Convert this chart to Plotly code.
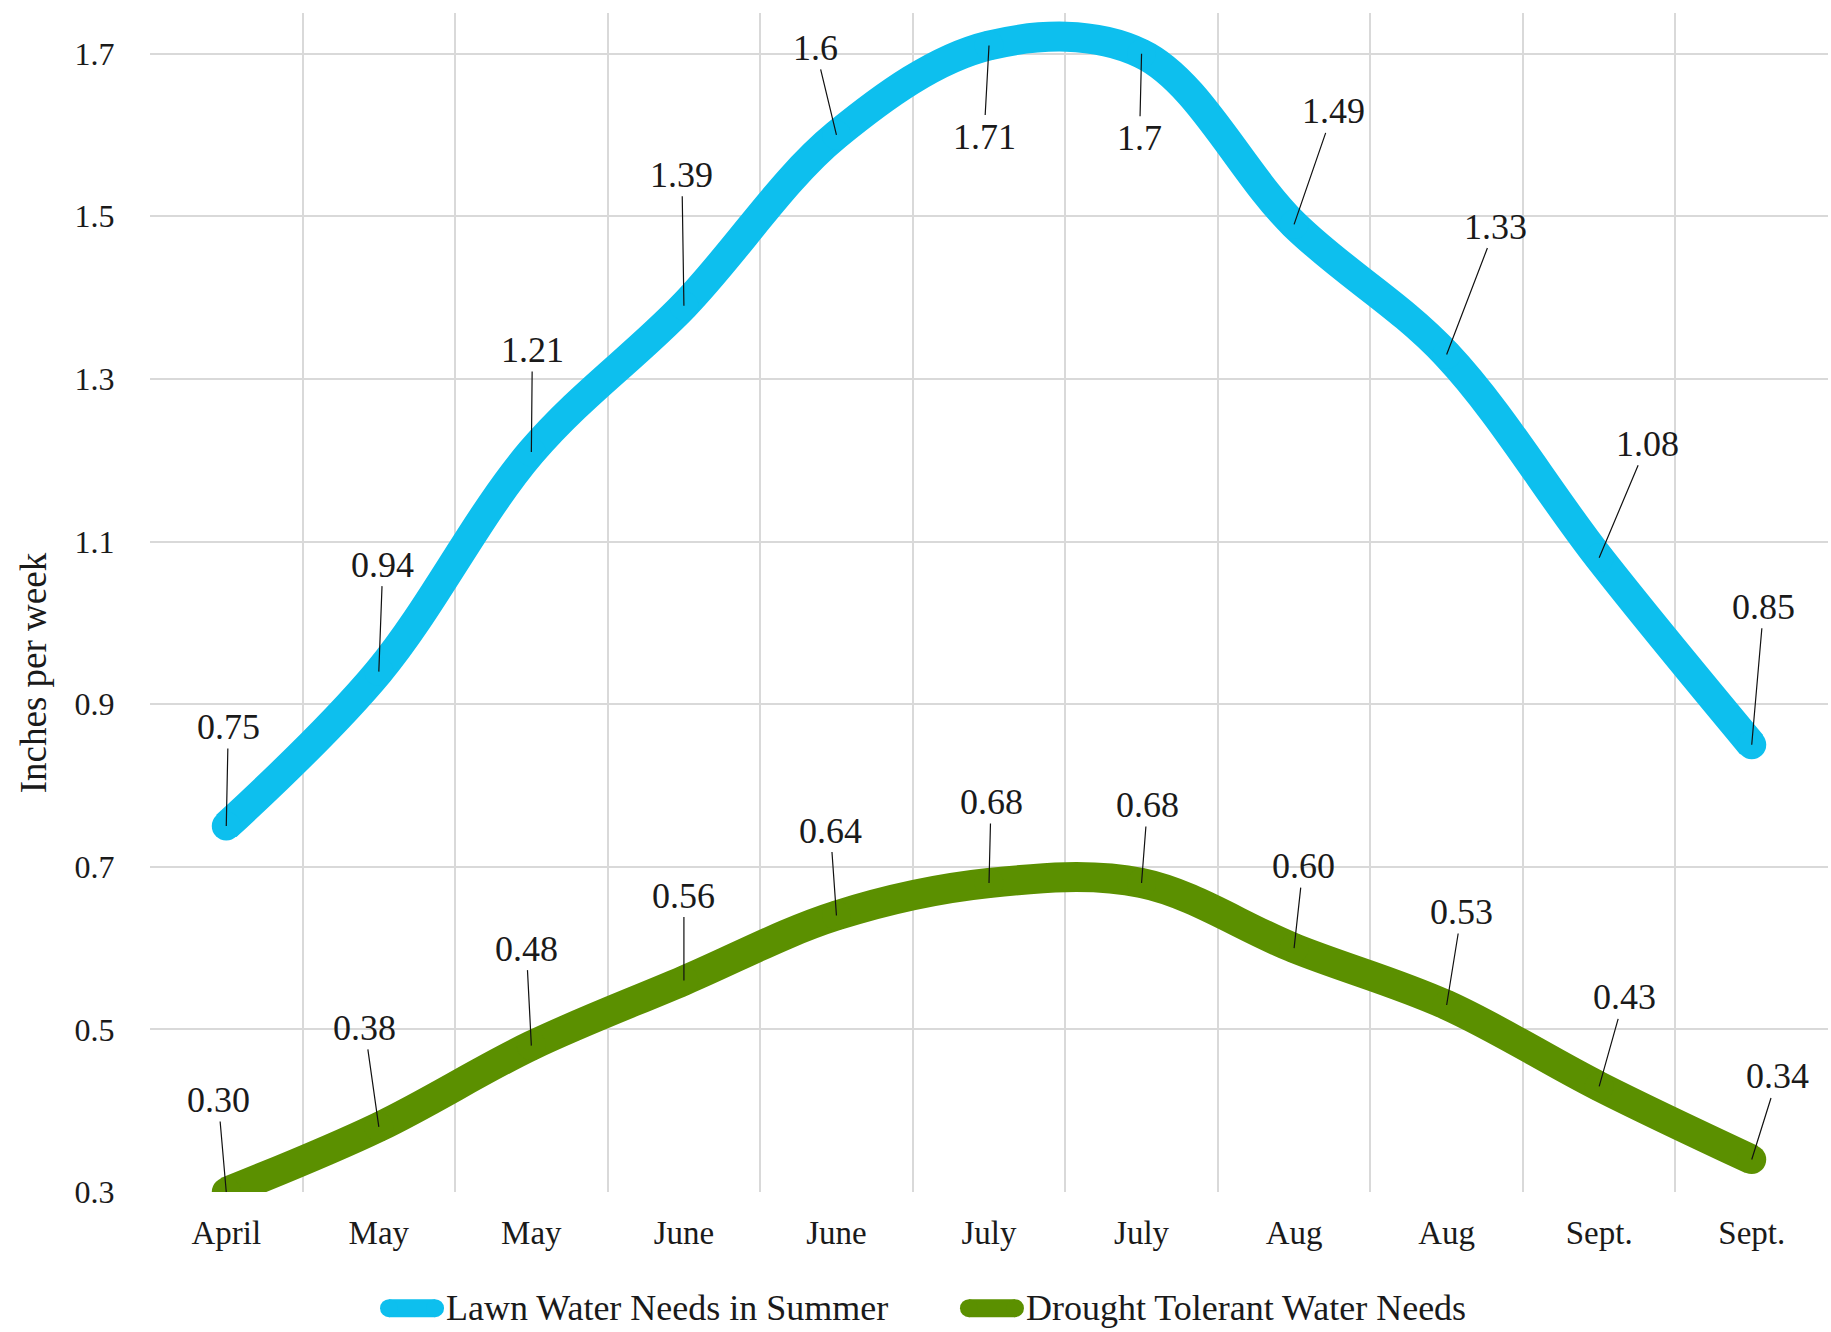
import plotly.graph_objects as go

# Weekly watering needs through the season
months = ["April", "May", "May", "June", "June", "July", "July", "Aug", "Aug", "Sept.", "Sept."]
lawn = [0.75, 0.94, 1.21, 1.39, 1.6, 1.71, 1.7, 1.49, 1.33, 1.08, 0.85]
drought = [0.30, 0.38, 0.48, 0.56, 0.64, 0.68, 0.68, 0.60, 0.53, 0.43, 0.34]
y_ticks = [0.3, 0.5, 0.7, 0.9, 1.1, 1.3, 1.5, 1.7]

lawn_name = "Lawn Water Needs in Summer"
drought_name = "Drought Tolerant Water Needs"
y_title = "Inches per week"

# pixel offsets of each value label from its point
lawn_offsets = [(2, -99), (4, -107), (1, -102), (-2, -131), (-21, -87), (-5, 91),
                (-2, 84), (39, -113), (49, -128), (48, -114), (12, -138)]
drought_offsets = [(-8, -92), (-14, -99), (-5, -97), (0, -85), (-6, -85), (2, -81),
                   (6, -78), (9, -82), (15, -93), (25, -89), (26, -83)]

BLUE = "#0DBFEE"
GREEN = "#5B9000"
FONT = "Liberation Serif, Times New Roman, serif"
TEXT = "#1a1a1a"
GRID = "#d9d9d9"
LW = 30

x = list(range(len(months)))

fig = go.Figure()
for name, vals, color in [(lawn_name, lawn, BLUE), (drought_name, drought, GREEN)]:
    fig.add_trace(go.Scatter(
        x=x, y=vals, name=name,
        mode="lines+markers",
        line=dict(color=color, width=LW, shape="spline", smoothing=1),
        marker=dict(color=color, size=LW - 1, line=dict(width=0)),
        hoverinfo="skip", showlegend=False,
    ))

annotations = []
for vals, offs, fmt in [(lawn, lawn_offsets, "{:g}"), (drought, drought_offsets, "{:.2f}")]:
    for i, (v, (dx, dy)) in enumerate(zip(vals, offs)):
        annotations.append(dict(
            x=i, y=v, xref="x", yref="y",
            text=fmt.format(v),
            showarrow=True, arrowhead=0, arrowwidth=1.2, arrowcolor="#111111",
            ax=dx, ay=dy, standoff=0, startstandoff=0,
            font=dict(family=FONT, size=36, color=TEXT),
        ))

# y-axis title
annotations.append(dict(
    xref="paper", yref="paper", x=0, y=0.44, xshift=-117,
    text=y_title, textangle=-90, showarrow=False,
    xanchor="center", yanchor="middle",
    font=dict(family=FONT, size=37, color=TEXT),
))

# legend below the plot: rounded swatch + label for each series
shapes = []
LEG_Y = -0.0985
legend_items = [(lawn_name, BLUE, 0.1371), (drought_name, GREEN, 0.4827)]
SW_LEN, SW_H = 64, 18
for name, color, x0 in legend_items:
    r = SW_H / 2
    common = dict(xref="paper", yref="paper", xsizemode="pixel", ysizemode="pixel",
                  xanchor=x0, yanchor=LEG_Y, fillcolor=color, line=dict(width=0),
                  layer="above")
    shapes.append(dict(type="rect", x0=r, x1=SW_LEN - r, y0=-r, y1=r, **common))
    shapes.append(dict(type="circle", x0=0, x1=2 * r, y0=-r, y1=r, **common))
    shapes.append(dict(type="circle", x0=SW_LEN - 2 * r, x1=SW_LEN, y0=-r, y1=r, **common))
    annotations.append(dict(
        xref="paper", yref="paper", x=x0, y=LEG_Y, xshift=SW_LEN,
        text=name, showarrow=False, xanchor="left", yanchor="middle",
        font=dict(family=FONT, size=36, color=TEXT),
    ))

fig.update_layout(
    width=1831, height=1332,
    margin=dict(l=150, r=3, t=13, b=140),
    paper_bgcolor="white", plot_bgcolor="white",
    font=dict(family=FONT, color=TEXT),
    showlegend=False,
    annotations=annotations,
    shapes=shapes,
)

fig.update_xaxes(
    range=[-0.5, len(months) - 0.5],
    tickmode="array", tickvals=x, ticktext=months,
    showgrid=False, zeroline=False, showline=False,
    ticks="outside", ticklen=11, tickcolor="rgba(0,0,0,0)",
    tickfont=dict(family=FONT, size=33, color=TEXT),
    minor=dict(tickmode="linear", tick0=-0.5, dtick=1, showgrid=True,
               gridcolor=GRID, gridwidth=2, ticks=""),
)
fig.update_yaxes(
    range=[0.3, 1.75],
    tickmode="array", tickvals=y_ticks, ticktext=[f"{t:g}" for t in y_ticks],
    showgrid=True, gridcolor=GRID, gridwidth=2, zeroline=False, showline=False,
    ticks="outside", ticklen=28, tickcolor="rgba(0,0,0,0)",
    tickfont=dict(family=FONT, size=32, color=TEXT),
)

fig.write_html("out.html")
